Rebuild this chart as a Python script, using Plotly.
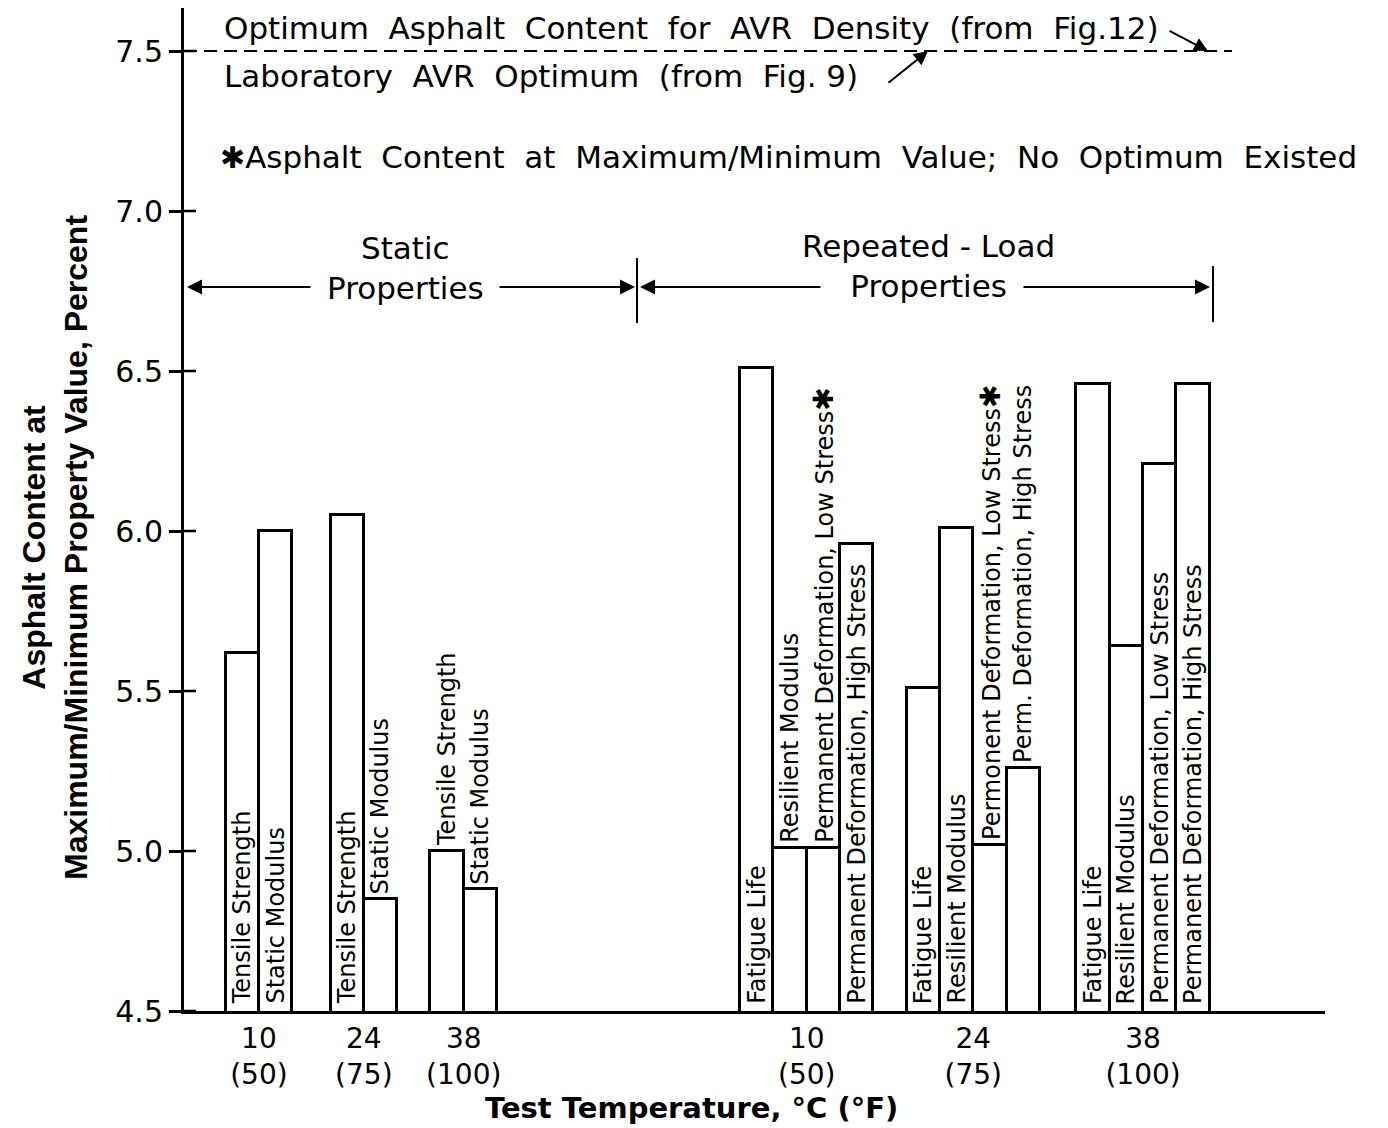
import plotly.graph_objects as go

# ---------------- data ----------------
group_labels = ["10<br>(50)", "24<br>(75)", "38<br>(100)", "10<br>(50)", "24<br>(75)", "38<br>(100)"]

static_10_names = ["Tensile Strength", "Static Modulus"]
static_10_vals = [5.62, 6.00]
static_24_names = ["Tensile Strength", "Static Modulus"]
static_24_vals = [6.05, 4.85]
static_38_names = ["Tensile Strength", "Static Modulus"]
static_38_vals = [5.00, 4.88]

rep_10_names = ["Fatigue Life", "Resilient Modulus", "Permanent Deformation, Low Stress",
                "Permanent Deformation, High Stress"]
rep_10_vals = [6.51, 5.01, 5.01, 5.96]
rep_10_noopt = [False, False, True, False]
rep_24_names = ["Fatigue Life", "Resilient Modulus", "Permonent Deformation, Low Stress",
                "Perm. Deformation, High Stress"]
rep_24_vals = [5.51, 6.01, 5.02, 5.26]
rep_24_noopt = [False, False, True, False]
rep_38_names = ["Fatigue Life", "Resilient Modulus", "Permanent Deformation, Low Stress",
                "Permanent Deformation, High Stress"]
rep_38_vals = [6.46, 5.64, 6.21, 6.46]
rep_38_noopt = [False, False, False, False]

y_ticks = [4.5, 5.0, 5.5, 6.0, 6.5, 7.0, 7.5]
avr_optimum = 7.5

# ---------------- layout constants ----------------
W, H = 1388, 1128
PAGE_OFF = 8                      # browser body margin
PLOT_L, PLOT_R, PLOT_T, PLOT_B = 184, 1325, 8, 1011   # plot area in page pixels
ML = PLOT_L - PAGE_OFF
MT = PLOT_T - PAGE_OFF
MR = W - (PLOT_R - PAGE_OFF)
MB = H - (PLOT_B - PAGE_OFF)
PW, PH = PLOT_R - PLOT_L, PLOT_B - PLOT_T
BAR_PX = 33.3
XMAX = PW / BAR_PX
YMIN = 4.5
PX_PER_UNIT = 320.0
YMAX = YMIN + PH / PX_PER_UNIT
group_centers = [2.25, 5.4, 8.4, 18.7, 23.7, 28.8]

FONT = "DejaVu Sans"
LABEL_SIZE = 24

def px_x(px):
    return (px - PLOT_L) / BAR_PX

def px_y(py):
    return YMIN + (PLOT_B - py) / PX_PER_UNIT

def paper_x(px):
    return (px - PLOT_L) / PW

def paper_y(py):
    return (PLOT_B - py) / PH

groups = [
    (static_10_names, static_10_vals, [False, False]),
    (static_24_names, static_24_vals, [False, False]),
    (static_38_names, static_38_vals, [False, False]),
    (rep_10_names, rep_10_vals, rep_10_noopt),
    (rep_24_names, rep_24_vals, rep_24_noopt),
    (rep_38_names, rep_38_vals, rep_38_noopt),
]

fig = go.Figure()
annotations = []

bx, by = [], []
for gi, (names, vals, noopt) in enumerate(groups):
    n = len(vals)
    for i, (nm, v, star) in enumerate(zip(names, vals, noopt)):
        xc = group_centers[gi] + (i - (n - 1) / 2)
        bx.append(xc)
        by.append(v)
        label = nm + ('<span style="font-size:28px">✱</span>' if star else "")
        bar_px = (v - YMIN) * PX_PER_UNIT
        text_px = len(nm) * LABEL_SIZE * 0.54 + 12
        inside = text_px < bar_px
        annotations.append(dict(
            x=xc, y=YMIN if inside else v, xref="x", yref="y",
            text=label, textangle=-90, showarrow=False,
            xanchor="center", yanchor="bottom", yshift=5 if inside else 3,
            font=dict(family=FONT, size=LABEL_SIZE, color="black"),
        ))

fig.add_trace(go.Bar(
    x=bx, y=by, width=1.0,
    marker=dict(color="white", line=dict(color="black", width=3)),
    hoverinfo="skip", showlegend=False,
))

txt_font = dict(family=FONT, size=31, color="black")

# Optimum texts and arrows
annotations += [
    dict(x=px_x(222), y=px_y(28), xref="x", yref="y", xanchor="left", yanchor="middle",
         text="Optimum  Asphalt  Content  for  AVR  Density  (from  Fig.12)", showarrow=False, font=txt_font),
    dict(x=px_x(222), y=px_y(76), xref="x", yref="y", xanchor="left", yanchor="middle",
         text="Laboratory  AVR  Optimum  (from  Fig. 9)", showarrow=False, font=txt_font),
    dict(x=px_x(218), y=px_y(157), xref="x", yref="y", xanchor="left", yanchor="middle",
         text='<span style="font-size:30px">✱</span>Asphalt  Content  at  Maximum/Minimum  Value;  No  Optimum  Existed',
         showarrow=False, font=txt_font),
    dict(x=px_x(1208), y=avr_optimum, ax=px_x(1168), ay=px_y(30), xref="x", yref="y", axref="x", ayref="y",
         text="", showarrow=True, arrowhead=2, arrowsize=1.4, arrowwidth=2, arrowcolor="black"),
    dict(x=px_x(928), y=avr_optimum, ax=px_x(887), ay=px_y(84), xref="x", yref="y", axref="x", ayref="y",
         text="", showarrow=True, arrowhead=2, arrowsize=1.4, arrowwidth=2, arrowcolor="black"),
]

# Static / Repeated-load brackets
yb = px_y(287)
annotations += [
    dict(x=px_x(405), y=px_y(268), xref="x", yref="y", text="Static<br>Properties", showarrow=False,
         font=txt_font, xanchor="center", yanchor="middle"),
    dict(x=px_x(928), y=px_y(266), xref="x", yref="y", text="Repeated - Load<br>Properties", showarrow=False,
         font=txt_font, xanchor="center", yanchor="middle"),
    dict(x=px_x(187), y=yb, ax=px_x(312), ay=yb, xref="x", yref="y", axref="x", ayref="y",
         text="", showarrow=True, arrowhead=2, arrowsize=1.5, arrowwidth=2, arrowcolor="black"),
    dict(x=px_x(635), y=yb, ax=px_x(498), ay=yb, xref="x", yref="y", axref="x", ayref="y",
         text="", showarrow=True, arrowhead=2, arrowsize=1.5, arrowwidth=2, arrowcolor="black"),
    dict(x=px_x(640), y=yb, ax=px_x(822), ay=yb, xref="x", yref="y", axref="x", ayref="y",
         text="", showarrow=True, arrowhead=2, arrowsize=1.5, arrowwidth=2, arrowcolor="black"),
    dict(x=px_x(1210), y=yb, ax=px_x(1022), ay=yb, xref="x", yref="y", axref="x", ayref="y",
         text="", showarrow=True, arrowhead=2, arrowsize=1.5, arrowwidth=2, arrowcolor="black"),
]

# axis titles
annotations += [
    dict(x=paper_x(691), y=paper_y(1108), xref="paper", yref="paper",
         text="<b>Test Temperature, °C (°F)</b>", showarrow=False,
         font=dict(family=FONT, size=29, color="black"), xanchor="center", yanchor="middle"),
    dict(x=paper_x(55), y=paper_y(548), xref="paper", yref="paper",
         text="<b>Asphalt Content at<br>Maximum/Minimum Property Value, Percent</b>", showarrow=False,
         textangle=-90, font=dict(family="Liberation Sans", size=32, color="black"),
         xanchor="center", yanchor="middle"),
]

shapes = [
    dict(type="line", xref="x", yref="y", x0=0, x1=px_x(1232), y0=avr_optimum, y1=avr_optimum,
         line=dict(color="black", width=2, dash="13px,7px")),
    dict(type="line", xref="x", yref="y", x0=px_x(637), x1=px_x(637), y0=px_y(258), y1=px_y(323),
         line=dict(color="black", width=2)),
    dict(type="line", xref="x", yref="y", x0=px_x(1213), x1=px_x(1213), y0=px_y(266), y1=px_y(322),
         line=dict(color="black", width=2)),
]
# inner halves of the y tick marks (ticks cross the axis)
for t in y_ticks:
    shapes.append(dict(type="line", xref="paper", yref="y", x0=0, x1=12 / PW, y0=t, y1=t,
                       line=dict(color="black", width=2.5)))

fig.update_layout(
    width=W, height=H,
    margin=dict(l=ML, r=MR, t=MT, b=MB),
    paper_bgcolor="white", plot_bgcolor="white",
    bargap=0,
    showlegend=False,
    annotations=annotations,
    shapes=shapes,
    xaxis=dict(range=[0, XMAX], tickmode="array", tickvals=group_centers, ticktext=group_labels,
               showline=True, linecolor="black", linewidth=3, ticks="", showgrid=False, zeroline=False,
               tickfont=dict(family=FONT, size=28, color="black")),
    yaxis=dict(range=[YMIN, YMAX], tickmode="array", tickvals=y_ticks,
               ticktext=[f"{v:.1f}" for v in y_ticks],
               showline=True, linecolor="black", linewidth=3, ticks="outside", ticklen=12,
               tickwidth=2.5, tickcolor="black", showgrid=False, zeroline=False,
               tickfont=dict(family=FONT, size=30, color="black")),
)

fig.write_html("out.html")
